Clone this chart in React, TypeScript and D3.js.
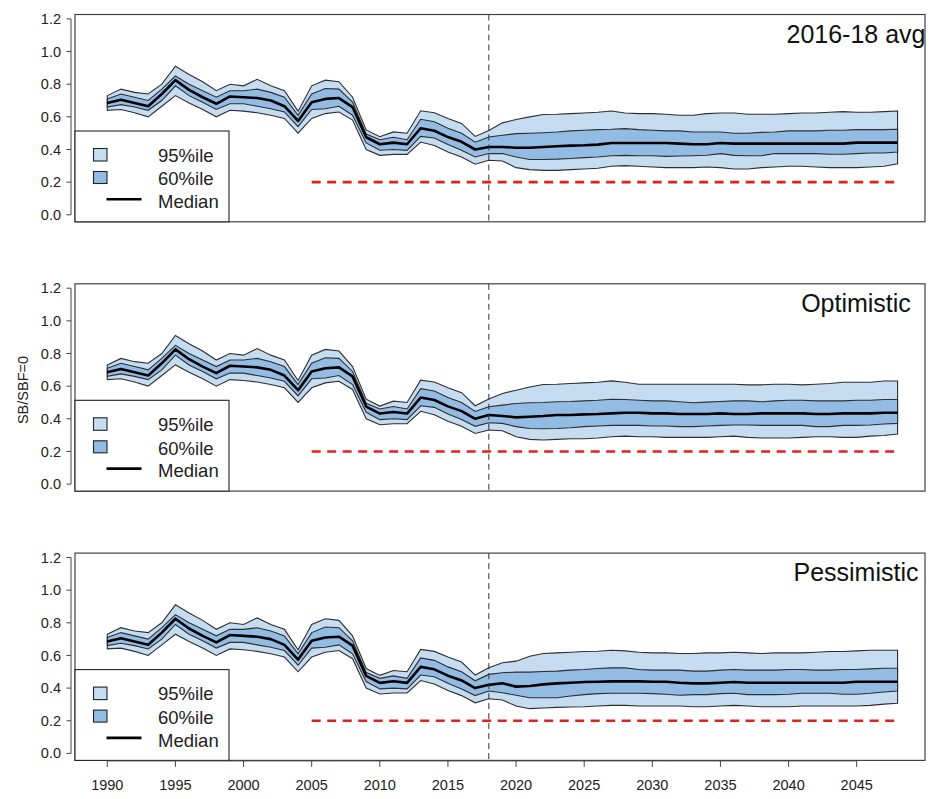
import React from "react";
import * as d3 from "d3";

const YEARS = d3.range(1990, 2049);
const X_TICKS = [1990, 1995, 2000, 2005, 2010, 2015, 2020, 2025, 2030, 2035, 2040, 2045];
const Y_TICKS = [0, 0.2, 0.4, 0.6, 0.8, 1.0, 1.2];
const PANEL_TITLES = ["2016-18 avg", "Optimistic", "Pessimistic"];
const LEGEND_LABELS = ["95%ile", "60%ile", "Median"];
const Y_LABEL = "SB/SBF=0";
const REF_LEVEL = 0.2;
const REF_START = 2005;
const LAST_OBS = 2018;

// Historical (1990-2017), shared by all panels
const HIST_U95 = [0.73, 0.77, 0.75, 0.74, 0.80, 0.91, 0.86, 0.815, 0.76, 0.80,
  0.79, 0.83, 0.79, 0.76, 0.635, 0.79, 0.825, 0.815, 0.72, 0.52,
  0.478, 0.508, 0.50, 0.637, 0.625, 0.59, 0.56, 0.48];
const HIST_U60 = [0.71, 0.74, 0.72, 0.70, 0.77, 0.85, 0.80, 0.76, 0.72, 0.76,
  0.76, 0.77, 0.75, 0.72, 0.61, 0.74, 0.774, 0.77, 0.69, 0.495,
  0.46, 0.475, 0.46, 0.585, 0.57, 0.53, 0.50, 0.445];
const HIST_MED = [0.685, 0.705, 0.685, 0.665, 0.74, 0.825, 0.765, 0.72, 0.68, 0.725,
  0.72, 0.715, 0.70, 0.665, 0.575, 0.69, 0.71, 0.715, 0.66, 0.475,
  0.432, 0.442, 0.432, 0.53, 0.515, 0.476, 0.447, 0.40];
const HIST_L60 = [0.66, 0.675, 0.66, 0.64, 0.70, 0.79, 0.73, 0.69, 0.645, 0.68,
  0.68, 0.665, 0.65, 0.63, 0.54, 0.645, 0.65, 0.665, 0.61, 0.44,
  0.395, 0.40, 0.395, 0.48, 0.47, 0.43, 0.395, 0.354];
const HIST_L95 = [0.64, 0.645, 0.625, 0.60, 0.665, 0.73, 0.685, 0.645, 0.60, 0.64,
  0.635, 0.625, 0.61, 0.59, 0.50, 0.59, 0.62, 0.63, 0.58, 0.40,
  0.364, 0.37, 0.37, 0.446, 0.425, 0.385, 0.354, 0.31];

// Projections (2018-2048)
const P1_U95 = [0.517, 0.563, 0.584, 0.60, 0.614, 0.616, 0.62, 0.624, 0.628, 0.636,
  0.624, 0.62, 0.62, 0.616, 0.61, 0.61, 0.62, 0.624, 0.624, 0.616,
  0.616, 0.616, 0.62, 0.624, 0.624, 0.628, 0.632, 0.628, 0.628, 0.632, 0.636];
const P1_U60 = [0.477, 0.487, 0.497, 0.50, 0.503, 0.507, 0.514, 0.518, 0.522, 0.524,
  0.528, 0.522, 0.518, 0.514, 0.514, 0.507, 0.507, 0.507, 0.50, 0.50,
  0.505, 0.507, 0.514, 0.514, 0.514, 0.518, 0.518, 0.522, 0.522, 0.522, 0.524];
const P1_MED = [0.415, 0.415, 0.411, 0.411, 0.415, 0.42, 0.424, 0.426, 0.43, 0.44,
  0.44, 0.44, 0.44, 0.44, 0.436, 0.432, 0.432, 0.44, 0.436, 0.436,
  0.436, 0.436, 0.436, 0.436, 0.436, 0.436, 0.436, 0.442, 0.442, 0.442, 0.442];
const P1_L60 = [0.375, 0.375, 0.354, 0.339, 0.339, 0.341, 0.345, 0.35, 0.354, 0.362,
  0.364, 0.362, 0.362, 0.358, 0.36, 0.362, 0.365, 0.375, 0.364, 0.362,
  0.362, 0.375, 0.375, 0.375, 0.375, 0.371, 0.371, 0.375, 0.379, 0.379, 0.385];
const P1_L95 = [0.334, 0.33, 0.289, 0.277, 0.272, 0.272, 0.277, 0.281, 0.285, 0.297,
  0.301, 0.297, 0.293, 0.289, 0.289, 0.289, 0.293, 0.289, 0.281, 0.281,
  0.289, 0.293, 0.297, 0.297, 0.293, 0.289, 0.289, 0.289, 0.293, 0.297, 0.313];

const P2_U95 = [0.522, 0.555, 0.575, 0.595, 0.61, 0.612, 0.616, 0.62, 0.624, 0.632,
  0.624, 0.612, 0.612, 0.612, 0.612, 0.612, 0.612, 0.612, 0.612, 0.608,
  0.608, 0.612, 0.612, 0.608, 0.612, 0.616, 0.624, 0.624, 0.624, 0.632, 0.632];
const P2_U60 = [0.474, 0.484, 0.494, 0.498, 0.50, 0.504, 0.506, 0.51, 0.514, 0.52,
  0.518, 0.514, 0.51, 0.51, 0.504, 0.498, 0.502, 0.506, 0.51, 0.51,
  0.504, 0.51, 0.514, 0.514, 0.51, 0.51, 0.51, 0.514, 0.514, 0.518, 0.518];
const P2_MED = [0.423, 0.417, 0.409, 0.413, 0.417, 0.423, 0.423, 0.427, 0.429, 0.433,
  0.437, 0.437, 0.433, 0.433, 0.429, 0.429, 0.429, 0.433, 0.429, 0.429,
  0.433, 0.433, 0.433, 0.433, 0.429, 0.429, 0.433, 0.433, 0.433, 0.437, 0.437];
const P2_L60 = [0.376, 0.372, 0.352, 0.341, 0.339, 0.341, 0.345, 0.352, 0.356, 0.36,
  0.36, 0.36, 0.356, 0.356, 0.352, 0.352, 0.356, 0.36, 0.362, 0.362,
  0.36, 0.36, 0.36, 0.36, 0.352, 0.352, 0.36, 0.36, 0.362, 0.368, 0.372];
const P2_L95 = [0.331, 0.327, 0.29, 0.274, 0.27, 0.274, 0.278, 0.278, 0.282, 0.29,
  0.294, 0.29, 0.29, 0.286, 0.286, 0.286, 0.286, 0.29, 0.294, 0.286,
  0.282, 0.282, 0.282, 0.286, 0.29, 0.29, 0.286, 0.286, 0.294, 0.298, 0.307];

const P3_U95 = [0.524, 0.555, 0.565, 0.595, 0.612, 0.616, 0.62, 0.624, 0.626, 0.632,
  0.628, 0.62, 0.616, 0.616, 0.612, 0.612, 0.616, 0.616, 0.62, 0.616,
  0.612, 0.616, 0.616, 0.616, 0.62, 0.624, 0.624, 0.628, 0.632, 0.632, 0.632];
const P3_U60 = [0.484, 0.494, 0.498, 0.498, 0.502, 0.504, 0.51, 0.514, 0.52, 0.524,
  0.524, 0.514, 0.51, 0.51, 0.51, 0.504, 0.504, 0.51, 0.514, 0.51,
  0.51, 0.51, 0.514, 0.514, 0.51, 0.51, 0.514, 0.514, 0.518, 0.522, 0.522];
const P3_MED = [0.42, 0.43, 0.409, 0.413, 0.423, 0.429, 0.433, 0.437, 0.439, 0.441,
  0.441, 0.441, 0.439, 0.439, 0.433, 0.429, 0.429, 0.433, 0.437, 0.433,
  0.433, 0.433, 0.433, 0.433, 0.433, 0.433, 0.433, 0.439, 0.439, 0.439, 0.439];
const P3_L60 = [0.382, 0.372, 0.356, 0.341, 0.341, 0.341, 0.352, 0.36, 0.366, 0.368,
  0.368, 0.368, 0.366, 0.362, 0.356, 0.36, 0.36, 0.366, 0.368, 0.36,
  0.36, 0.36, 0.362, 0.368, 0.368, 0.368, 0.362, 0.362, 0.368, 0.376, 0.382];
const P3_L95 = [0.335, 0.327, 0.29, 0.274, 0.278, 0.282, 0.284, 0.286, 0.29, 0.294,
  0.294, 0.29, 0.29, 0.29, 0.29, 0.286, 0.286, 0.29, 0.294, 0.29,
  0.286, 0.286, 0.286, 0.29, 0.29, 0.29, 0.29, 0.29, 0.294, 0.302, 0.307];

const PROJ = [
  { u95: P1_U95, u60: P1_U60, med: P1_MED, l60: P1_L60, l95: P1_L95 },
  { u95: P2_U95, u60: P2_U60, med: P2_MED, l60: P2_L60, l95: P2_L95 },
  { u95: P3_U95, u60: P3_U60, med: P3_MED, l60: P3_L60, l95: P3_L95 },
];

const W = 929;
const H = 799;
const BOX_L = 75;
const BOX_R = 925;
const PANEL_TOPS = [14.5, 283.8, 553.1];
const PANEL_H = 207.3;
const FONT = "Liberation Sans, Arial, Helvetica, sans-serif";
const C95 = "#c6dcf1";
const C60 = "#93bce4";
const EDGE = "#2e2e2e";

const x = d3.scaleLinear().domain([1990, 2045]).range([107.3, 856.7]);

function Panel({ idx }: { idx: number }) {
  const top = PANEL_TOPS[idx];
  const bottom = top + PANEL_H;
  const y = d3.scaleLinear().domain([0, 1.2]).range([top + 200.3, top + 4.4]);
  const p = PROJ[idx];
  const u95 = HIST_U95.concat(p.u95);
  const u60 = HIST_U60.concat(p.u60);
  const med = HIST_MED.concat(p.med);
  const l60 = HIST_L60.concat(p.l60);
  const l95 = HIST_L95.concat(p.l95);
  const rows = YEARS.map((yr, i) => ({ yr, u95: u95[i], u60: u60[i], med: med[i], l60: l60[i], l95: l95[i] }));

  const area95 = d3.area<any>().x((d) => x(d.yr)).y0((d) => y(d.l95)).y1((d) => y(d.u95));
  const area60 = d3.area<any>().x((d) => x(d.yr)).y0((d) => y(d.l60)).y1((d) => y(d.u60));
  const line = (k: string) => d3.line<any>().x((d) => x(d.yr)).y((d) => y(d[k]))(rows) || "";
  const lastYear = YEARS[YEARS.length - 1];

  const legTop = top + 116.5;
  return (
    <g>
      <path d={(area95(rows) || "") + "Z"} fill={C95} stroke={EDGE} strokeWidth={1.1} />
      <path d={(area60(rows) || "") + "Z"} fill={C60} stroke={EDGE} strokeWidth={1.1} />
      <path d={line("med")} fill="none" stroke="#000" strokeWidth={2.6} strokeLinejoin="round" />
      <line x1={x(REF_START)} x2={x(lastYear)} y1={y(REF_LEVEL)} y2={y(REF_LEVEL)}
        stroke="#e3211c" strokeWidth={2.6} strokeDasharray="9,6.5" />
      <line x1={x(LAST_OBS)} x2={x(LAST_OBS)} y1={top} y2={bottom}
        stroke="#333" strokeWidth={1} strokeDasharray="6,4" />
      {/* box */}
      <rect x={BOX_L} y={top} width={BOX_R - BOX_L} height={PANEL_H} fill="none" stroke="#444" strokeWidth={1.2} />
      {/* y axis */}
      <line x1={71} x2={71} y1={y(0)} y2={y(1.2)} stroke="#444" strokeWidth={1} />
      {Y_TICKS.map((t) => (
        <g key={t}>
          <line x1={66.5} x2={71} y1={y(t)} y2={y(t)} stroke="#444" strokeWidth={1} />
          <text x={61} y={y(t)} dy="0.35em" textAnchor="end" fontSize={14.5} fontFamily={FONT} fill="#222">
            {t.toFixed(1)}
          </text>
        </g>
      ))}
      {/* title */}
      <text x={856} y={top + 28} textAnchor="middle" fontSize={25} fontFamily={FONT} fill="#111">
        {PANEL_TITLES[idx]}
      </text>
      {/* legend */}
      <rect x={BOX_L} y={legTop} width={229 - BOX_L} height={bottom - legTop} fill="#fff" stroke="#222" strokeWidth={1.1} />
      <rect x={93.5} y={legTop + 17.5} width={13.5} height={12.5} fill={C95} stroke="#222" strokeWidth={1.1} />
      <rect x={93.5} y={legTop + 40.5} width={13.5} height={12} fill={C60} stroke="#222" strokeWidth={1.1} />
      <line x1={106.5} x2={141.5} y1={legTop + 68.3} y2={legTop + 68.3} stroke="#000" strokeWidth={2.6} />
      {LEGEND_LABELS.map((lab, i) => (
        <text key={lab} x={158} y={legTop + [24.3, 47.8, 70.5][i]} dy="0.35em" fontSize={18.5} fontFamily={FONT} fill="#222">
          {lab}
        </text>
      ))}
    </g>
  );
}

export default function App() {
  const bottom3 = PANEL_TOPS[2] + PANEL_H;
  return (
    <svg width={W} height={H} style={{ position: "absolute", left: 0, top: 0, background: "#fff" }}>
      <rect x={0} y={0} width={W} height={H} fill="#fff" />
      {[0, 1, 2].map((i) => <Panel key={i} idx={i} />)}
      {/* x axis */}
      <line x1={x(1990)} x2={x(2045)} y1={bottom3 + 0.5} y2={bottom3 + 0.5} stroke="#444" strokeWidth={1} />
      {X_TICKS.map((t) => (
        <g key={t}>
          <line x1={x(t)} x2={x(t)} y1={bottom3} y2={bottom3 + 6.5} stroke="#444" strokeWidth={1} />
          <text x={x(t)} y={bottom3 + 29.5} textAnchor="middle" fontSize={14.5} fontFamily={FONT} fill="#222">
            {t}
          </text>
        </g>
      ))}
      <text transform={`translate(23,${390}) rotate(-90)`} textAnchor="middle" dy="0.35em" fontSize={14.5} fontFamily={FONT} fill="#222">
        {Y_LABEL}
      </text>
    </svg>
  );
}
